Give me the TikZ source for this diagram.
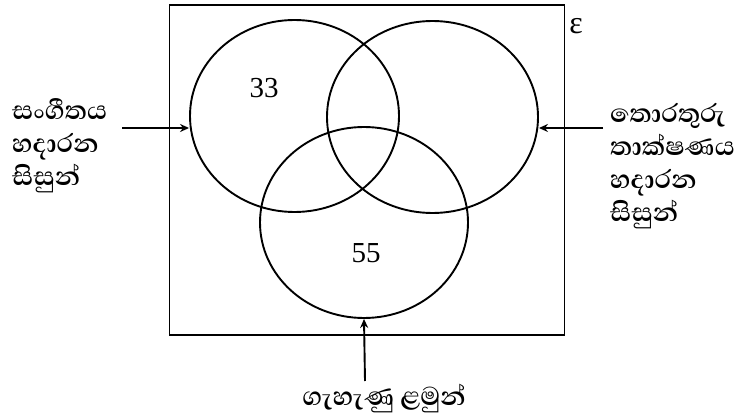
\documentclass[tikz,border=0pt]{standalone}
\usepackage{fontspec}
\setmainfont{Liberation Serif}
\newfontfamily\sinhalafnt[Script=Sinhala]{Abhaya Libre}
\usetikzlibrary{shapes.geometric,arrows.meta}
\begin{document}
\begin{tikzpicture}[x=1pt,y=-1pt,
  set/.style={draw,line width=1.9pt,ellipse,inner sep=0pt},
  frame/.style={draw,line width=1.9pt},
  arr/.style={line width=1.9pt,-{Stealth[length=9pt,width=8pt]}},
  lbl/.style={align=left,inner sep=0pt,font={\sinhalafnt\bfseries\fontsize{33}{33}\selectfont}},
  num/.style={inner sep=0pt,font=\fontsize{29}{29}\selectfont}]
\useasboundingbox (0,0) rectangle (742,417);
\fill[white] (0,0) rectangle (742,417);
\node[frame,minimum width=395pt,minimum height=330pt,inner sep=0pt] (U) at (367,170) {};
\node[set,minimum width=209pt,minimum height=192pt] (A) at (294.5,116) {};
\node[set,minimum width=211pt,minimum height=192pt] (B) at (432.5,117) {};
\node[set,minimum width=208pt,minimum height=191pt] (C) at (364,222.5) {};
\node[num] (n33) at (264,88) {33};
\node[num] (n55) at (366,253) {55};
\node[inner sep=0pt,font=\fontsize{32}{32}\selectfont] (eps) at (576,26) {ε};
\node[lbl,anchor=west] (LA) at (12,146) {සංගීතය\\හදාරන\\සිසුන්};
\node[lbl,anchor=west] (LB) at (610,166) {තොරතුරු\\තාක්ෂණය\\හදාරන\\සිසුන්};
\node[lbl] (LC) at (384,398) {ගැහැණු ළමුන්};
\coordinate (sa) at (122,128);
\coordinate (sb) at (603,128);
\coordinate (sc) at (365,381);
\draw[arr] (sa) -- (A.west |- sa);
\draw[arr] (sb) -- (B.east |- sb);
\draw[arr] (sc) -- (C.south);
\end{tikzpicture}
\end{document}
